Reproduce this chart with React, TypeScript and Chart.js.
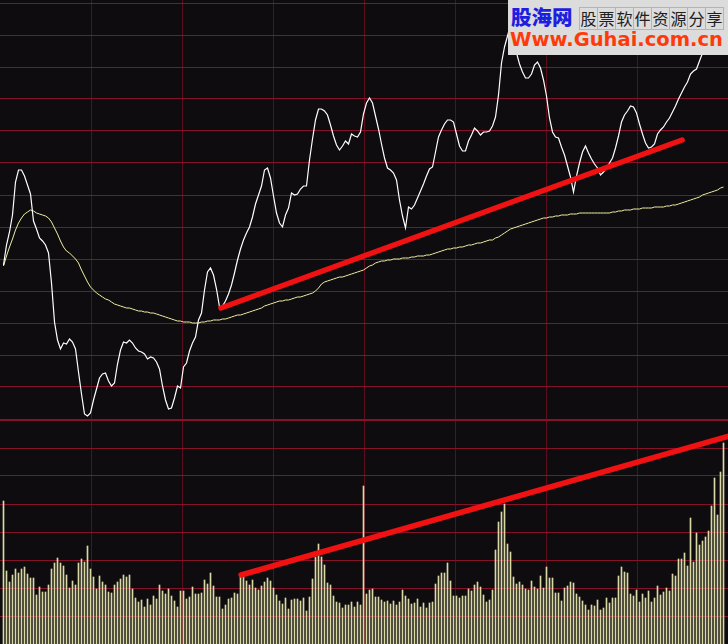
import React, { useEffect, useRef } from "react";
import { Chart, registerables } from "chart.js";

Chart.register(...registerables);

// minute index of the trading day (241 one-minute points)
const minutes: number[] = Array.from({ length: 241 }, (_, i) => i);

// price line (chart units: one horizontal grid step = 32)
const price: number[] = [
  154, 174, 187, 204, 237, 249, 249, 243, 234, 225,
  198, 190, 181, 178, 174, 166, 136, 97, 79, 70,
  76, 75, 80, 77, 70, 47, 25, 5, 3, 6,
  19, 30, 41, 45, 46, 38, 33, 36, 55, 69,
  77, 76, 79, 76, 71, 68, 67, 65, 60, 62,
  61, 57, 50, 33, 19, 10, 11, 21, 33, 31,
  52, 56, 68, 76, 82, 99, 106, 129, 147, 151,
  144, 130, 112, 113, 118, 125, 134, 146, 159, 170,
  179, 186, 192, 202, 215, 224, 233, 249, 251, 241,
  223, 206, 196, 192, 204, 211, 226, 224, 225, 230,
  233, 233, 259, 280, 299, 310, 310, 308, 304, 294,
  283, 274, 269, 273, 278, 275, 285, 283, 282, 287,
  305, 316, 321, 316, 303, 290, 275, 261, 251, 249,
  246, 239, 219, 203, 191, 212, 210, 214, 221, 228,
  235, 243, 250, 252, 267, 282, 289, 295, 299, 299,
  297, 285, 273, 268, 268, 278, 284, 291, 288, 284,
  287, 287, 288, 293, 302, 324, 356, 372, 383, 394,
  389, 366, 355, 347, 341, 341, 345, 354, 357, 351,
  339, 323, 301, 287, 282, 281, 272, 264, 253, 242,
  227, 243, 256, 267, 273, 266, 260, 255, 251, 244,
  247, 251, 256, 261, 271, 283, 297, 304, 308, 313,
  312, 306, 295, 285, 276, 271, 272, 275, 285, 289,
  292, 297, 301, 307, 313, 320, 326, 332, 337, 345,
  348, 350, 358, 366, 370, 372, 374, 377, 380, 383,
  388,
];

// average price line
const avgPrice: number[] = [
  153, 163, 172, 180, 189, 196, 201, 205, 207, 209,
  208, 206, 205, 204, 203, 201, 197, 191, 185, 178,
  172, 168, 166, 163, 160, 156, 149, 143, 137, 132,
  129, 126, 124, 122, 120, 119, 117, 115, 114, 113,
  112, 111, 111, 110, 109, 108, 108, 107, 107, 106,
  106, 105, 104, 103, 102, 101, 100, 99, 98, 98,
  97, 97, 97, 96, 96, 96, 97, 97, 98, 98,
  99, 99, 99, 100, 100, 101, 102, 103, 104, 104,
  105, 106, 107, 108, 109, 110, 111, 113, 114, 115,
  116, 117, 118, 118, 119, 119, 120, 121, 122, 122,
  123, 124, 125, 126, 128, 131, 135, 137, 138, 139,
  140, 141, 142, 142, 143, 144, 145, 146, 147, 148,
  149, 151, 153, 154, 156, 157, 158, 158, 159, 159,
  160, 160, 160, 161, 161, 161, 162, 162, 163, 163,
  163, 164, 164, 165, 166, 167, 168, 169, 170, 170,
  171, 171, 172, 172, 173, 174, 174, 175, 176, 176,
  177, 178, 179, 179, 181, 182, 184, 186, 188, 190,
  191, 192, 193, 194, 195, 196, 197, 198, 199, 200,
  201, 201, 202, 202, 203, 203, 204, 204, 204, 205,
  205, 205, 206, 206, 206, 206, 206, 206, 206, 206,
  206, 206, 206, 207, 207, 208, 208, 209, 209, 209,
  210, 210, 210, 211, 211, 211, 211, 212, 212, 212,
  212, 213, 213, 214, 214, 215, 216, 217, 218, 219,
  220, 221, 222, 224, 225, 226, 227, 228, 229, 231,
  232,
];

// volume per minute (one volume grid step = 28)
const volume: number[] = [
  143, 73, 62, 69, 75, 71, 75, 77, 70, 66,
  66, 49, 57, 52, 52, 59, 75, 81, 86, 81,
  78, 69, 56, 63, 59, 81, 85, 82, 98, 75,
  67, 55, 68, 62, 59, 52, 51, 59, 62, 65,
  69, 67, 69, 55, 46, 42, 44, 37, 45, 39,
  48, 45, 59, 53, 50, 55, 48, 43, 37, 53,
  53, 45, 47, 57, 50, 50, 51, 64, 60, 71,
  58, 47, 47, 35, 39, 45, 46, 51, 50, 67,
  67, 63, 59, 64, 56, 54, 58, 62, 66, 63,
  56, 49, 43, 40, 46, 35, 44, 45, 45, 43,
  46, 33, 47, 65, 87, 100, 87, 79, 61, 59,
  48, 42, 41, 36, 39, 39, 42, 37, 42, 39,
  158, 50, 54, 55, 47, 47, 44, 42, 43, 40,
  43, 39, 42, 54, 48, 45, 40, 41, 45, 37,
  41, 36, 41, 42, 60, 68, 71, 71, 81, 63,
  48, 48, 46, 48, 48, 55, 53, 59, 62, 57,
  49, 42, 44, 54, 94, 122, 132, 140, 100, 92,
  67, 60, 62, 59, 55, 54, 63, 57, 55, 68,
  56, 77, 66, 66, 51, 51, 43, 56, 58, 62,
  61, 50, 47, 43, 39, 34, 39, 38, 44, 34,
  36, 46, 41, 46, 46, 68, 77, 72, 71, 50,
  48, 54, 42, 50, 46, 53, 42, 46, 58, 49,
  52, 56, 53, 70, 68, 85, 85, 91, 78, 126,
  82, 111, 99, 103, 107, 113, 138, 166, 129, 172,
  201,
];

// grid positions
const priceGrid: number[] = [0, 32, 64, 96, 128, 160, 192, 224, 256, 288, 320, 352, 384, 416];
const volumeGrid: number[] = [28, 56, 84, 112, 140, 168, 196, 224];
const timeGrid: number[] = [30, 60, 90, 120, 150, 180, 210];

// hand-drawn trend lines
const priceTrendX: number[] = [72.5, 226.2];
const priceTrendY: number[] = [111, 279];
const volumeTrendX: number[] = [79.2, 242];
const volumeTrendY: number[] = [69, 208];

const watermarkChars: string[] = ["股", "票", "软", "件", "资", "源", "分", "享"];

export default function App() {
  const ref = useRef<HTMLCanvasElement | null>(null);

  useEffect(() => {
    if (!ref.current) return;
    const pts = (ys: number[], xs: number[]) => ys.map((y, i) => ({ x: xs[i], y }));
    const hGrid = { color: "#86122a", lineWidth: 1, drawTicks: false };
    const chart = new Chart(ref.current, {
      type: "line",
      data: {
        datasets: [
          {
            label: "priceTrend",
            data: pts(priceTrendY, priceTrendX),
            xAxisID: "x",
            yAxisID: "yp",
            borderColor: "#f01212",
            borderWidth: 5.5,
            borderCapStyle: "round",
            pointRadius: 0,
            order: 0,
          },
          {
            label: "volumeTrend",
            data: pts(volumeTrendY, volumeTrendX),
            xAxisID: "x",
            yAxisID: "yv",
            borderColor: "#f01212",
            borderWidth: 5.5,
            borderCapStyle: "round",
            pointRadius: 0,
            order: 0,
          },
          {
            label: "price",
            data: pts(price, minutes),
            xAxisID: "x",
            yAxisID: "yp",
            borderColor: "#ffffff",
            borderWidth: 1.2,
            pointRadius: 0,
            tension: 0,
            order: 1,
          },
          {
            label: "avg",
            data: pts(avgPrice, minutes),
            xAxisID: "x",
            yAxisID: "yp",
            borderColor: "#f2eea4",
            borderWidth: 1,
            pointRadius: 0,
            tension: 0,
            order: 2,
          },
          {
            type: "bar",
            label: "volume",
            data: pts(volume, minutes),
            xAxisID: "x",
            yAxisID: "yv",
            backgroundColor: "#dad8a4",
            borderWidth: 0,
            barThickness: 1,
            order: 3,
          } as any,
        ],
      },
      options: {
        animation: false,
        responsive: false,
        maintainAspectRatio: false,
        events: [],
        layout: { padding: 0 },
        plugins: { legend: { display: false }, tooltip: { enabled: false } },
        scales: {
          x: { type: "linear", min: -7 / 6, max: 241.5, display: false, offset: false },
          xg: {
            type: "linear",
            min: 0,
            max: 240,
            position: "bottom",
            offset: false,
            ticks: { display: false },
            grid: { color: "#5c0c1a", lineWidth: 1, drawTicks: false },
            border: { display: false },
            afterBuildTicks: (s: any) => {
              s.ticks = timeGrid.map((v) => ({ value: v }));
            },
          },
          yp: {
            type: "linear",
            min: -225,
            max: 419,
            position: "left",
            ticks: { display: false },
            grid: hGrid,
            border: { display: false },
            afterBuildTicks: (s: any) => {
              s.ticks = priceGrid.map((v) => ({ value: v }));
            },
          },
          yv: {
            type: "linear",
            min: 0,
            max: 644,
            position: "left",
            ticks: { display: false },
            grid: hGrid,
            border: { display: false },
            afterBuildTicks: (s: any) => {
              s.ticks = volumeGrid.map((v) => ({ value: v }));
            },
          },
        },
      } as any,
    });
    return () => chart.destroy();
  }, []);

  return (
    <div
      style={{
        position: "fixed",
        left: 0,
        top: 0,
        width: 728,
        height: 644,
        background: "#0e0c0e",
        overflow: "hidden",
      }}
    >
      <canvas ref={ref} width={728} height={644} style={{ display: "block", width: 728, height: 644 }} />
      <div
        style={{
          position: "absolute",
          left: 508,
          top: 0,
          width: 220,
          height: 55,
          background: "#dcdcdc",
          overflow: "hidden",
        }}
      >
        <div
          style={{
            position: "absolute",
            left: 3,
            top: 5,
            fontFamily: '"Noto Sans CJK SC", sans-serif',
            fontWeight: 900,
            fontSize: 20.5,
            lineHeight: "22px",
            color: "#1e1ee0",
            whiteSpace: "nowrap",
          }}
        >
          股海网
        </div>
        <div
          style={{
            position: "absolute",
            left: 71,
            top: 7,
            height: 21,
            display: "flex",
            borderTop: "1px solid #b4b4b4",
            borderBottom: "1px solid #b4b4b4",
            borderRight: "1px solid #b4b4b4",
          }}
        >
          {watermarkChars.map((c, i) => (
            <div
              key={i}
              style={{
                width: 17,
                height: 21,
                borderLeft: "1px solid #b4b4b4",
                fontFamily: '"Noto Sans CJK SC", sans-serif',
                fontSize: 16,
                lineHeight: "21px",
                textAlign: "center",
                color: "#202020",
              }}
            >
              {c}
            </div>
          ))}
        </div>
        <div
          style={{
            position: "absolute",
            left: 2,
            top: 30,
            fontFamily: '"DejaVu Sans", sans-serif',
            fontWeight: 700,
            fontSize: 19.5,
            lineHeight: "20px",
            color: "#ff3a0a",
            whiteSpace: "nowrap",
          }}
        >
          Www.Guhai.com.cn
        </div>
      </div>
    </div>
  );
}
